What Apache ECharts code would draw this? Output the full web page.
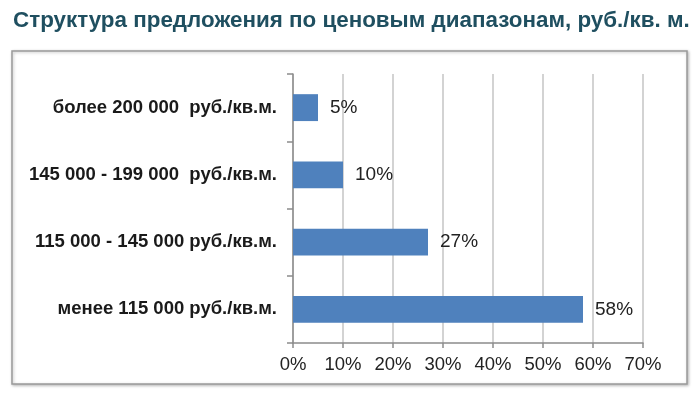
<!DOCTYPE html>
<html>
<head>
<meta charset="utf-8">
<script src="https://cdn.jsdelivr.net/npm/echarts@6/dist/echarts.min.js"></script>
<style>
html,body{margin:0;padding:0;background:#fff;}
#chart{width:700px;height:394px;}
</style>
</head>
<body>
<div id="chart"></div>
<script>
const titleText = 'Структура предложения по ценовым диапазонам, руб./кв. м.';
const categories = [
  'более 200 000  руб./кв.м.',
  '145 000 - 199 000  руб./кв.м.',
  '115 000 - 145 000 руб./кв.м.',
  'менее 115 000 руб./кв.м.'
];
const shares = [5, 10, 27, 58];
const tickMin = 0, tickMax = 70, tickStep = 10;

const chart = echarts.init(document.getElementById('chart'), null, {renderer: 'canvas'});
chart.setOption({
  backgroundColor: '#ffffff',
  animation: false,
  title: {
    text: titleText,
    left: 8, top: 5,
    textStyle: {fontFamily: 'Liberation Sans, Arial, sans-serif', fontSize: 22.4, fontWeight: 'bold', color: '#1f4f60'}
  },
  graphic: [{
    type: 'rect', z: -10,
    shape: {x: 12, y: 51, width: 675, height: 333},
    style: {fill: '#fff', stroke: '#9a9a9a', lineWidth: 1.5, shadowBlur: 3, shadowColor: 'rgba(0,0,0,0.25)', shadowOffsetX: 1, shadowOffsetY: 1}
  }],
  grid: {left: 293, right: 57, top: 74, bottom: 51, containLabel: false},
  xAxis: {
    type: 'value', min: tickMin, max: tickMax, interval: tickStep,
    axisLine: {show: true, lineStyle: {color: '#8c8c8c', width: 1.5}},
    axisTick: {show: true, length: 5, lineStyle: {color: '#8c8c8c', width: 1.5}},
    axisLabel: {formatter: v => v + '%', margin: 12, fontSize: 18.5, color: '#222', fontFamily: 'Liberation Sans, Arial, sans-serif'},
    splitLine: {show: true, lineStyle: {color: '#c4c4c4', width: 1.5}}
  },
  yAxis: {
    type: 'category', data: categories, inverse: true,
    axisLine: {show: true, lineStyle: {color: '#8c8c8c', width: 1.5}},
    axisTick: {show: true, length: 6, lineStyle: {color: '#8c8c8c', width: 1.5}},
    axisLabel: {margin: 16, fontSize: 18.5, fontWeight: 'bold', color: '#1a1a1a', fontFamily: 'Liberation Sans, Arial, sans-serif'}
  },
  series: [{
    type: 'bar', data: shares, barWidth: '40%',
    itemStyle: {color: '#4f81bd'},
    label: {show: true, position: 'right', distance: 12, formatter: p => p.value + '%', fontSize: 19, color: '#222', fontFamily: 'Liberation Sans, Arial, sans-serif'}
  }]
});
</script>
</body>
</html>
